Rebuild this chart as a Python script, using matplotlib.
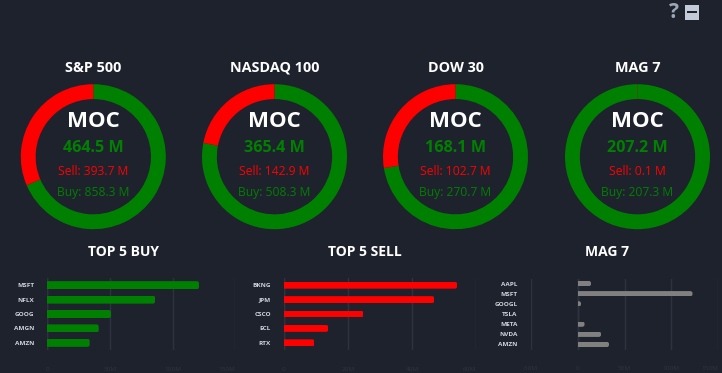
import matplotlib
matplotlib.use('Agg')
import matplotlib.pyplot as plt
from matplotlib.patches import FancyBboxPatch, Rectangle
from matplotlib.transforms import IdentityTransform

plt.rcParams['font.family'] = ['Open Sans', 'DejaVu Sans']

W, H = 722, 373
BG = '#1e222d'
GRID = '#2e323e'
GREEN = '#008000'
RED = '#ff0000'
GREY = '#808080'

# donut data, in millions
index_names = ['S&P 500', 'NASDAQ 100', 'DOW 30', 'MAG 7']
net_vals = [464.5, 365.4, 168.1, 207.2]
sell_vals = [393.7, 142.9, 102.7, 0.1]
buy_vals = [858.3, 508.3, 270.7, 207.3]
donut_x = [93.3, 274.5, 455.5, 637.5]

# bar data, in millions
buy_names = ['MSFT', 'NFLX', 'GOOG', 'AMGN', 'AMZN']
buy_top = [121, 86, 50.8, 41, 33.8]
sell_names = ['BKNG', 'JPM', 'CSCO', 'ECL', 'RTX']
sell_top = [54, 46.9, 24.7, 13.8, 9.5]
mag_names = ['AAPL', 'MSFT', 'GOOGL', 'TSLA', 'META', 'NVDA', 'AMZN']
mag_vals = [14.3, 122.5, 3.6, 0, 7.4, 25, 33.5]

buy_ticks = [0, 50, 100, 150]
buy_tick_labels = ['0', '50M', '100M', '150M']
sell_ticks = [0, 20, 40, 60]
sell_tick_labels = ['0', '20M', '40M', '60M']
mag_ticks = [-50, 0, 50, 100, 150]
mag_tick_labels = ['-50M', '0', '50M', '100M', '150M']

fig = plt.figure(figsize=(W / 100, H / 100), dpi=100, facecolor=BG)


def px_axes(left, top, right, bottom):
    # axes placed by pixel box, y measured from top of image
    return fig.add_axes([left / W, 1 - bottom / H, (right - left) / W, (bottom - top) / H])


def fig_text(x, y, s, **kw):
    fig.text(x / W, 1 - y / H, s, ha='center', va='center', **kw)


# donuts
R = 72.5
for i in range(4):
    cx = donut_x[i]
    cy = 156.7
    ax = px_axes(cx - R, cy - R, cx + R, cy + R)
    ax.pie([buy_vals[i], sell_vals[i]], colors=[GREEN, RED], startangle=90, counterclock=False,
           radius=1, wedgeprops={'width': 0.205, 'linewidth': 0})
    ax.set_xlim(-1, 1)
    ax.set_ylim(-1, 1)
    fig_text(cx, 67.5, index_names[i], color='white', fontsize=10.4, fontweight='bold')
    fig_text(cx, 121.5, 'MOC', color='white', fontsize=16, fontweight='bold')
    fig_text(cx, 148.3, '%.1f M' % net_vals[i], color=GREEN, fontsize=11.6, fontweight='bold')
    fig_text(cx, 171.5, 'Sell: %.1f M' % sell_vals[i], color=RED, fontsize=8.7)
    fig_text(cx, 192.5, 'Buy: %.1f M' % buy_vals[i], color=GREEN, fontsize=8.7)


def bar_panel(box, title, title_x, names, vals, ticks, tick_labels, color, bar_h):
    ax = px_axes(*box)
    ax.set_facecolor('none')
    ypos = list(range(len(names)))
    bars = ax.barh(ypos, vals, height=bar_h, color=color, linewidth=0, zorder=3)
    ax.set_xlim(ticks[0], ticks[-1])
    ax.set_ylim(len(names) - 0.5, -0.5)
    ax.set_xticks(ticks)
    ax.set_xticklabels(tick_labels, color='#30343f', fontsize=4.6)
    ax.get_xticklabels()[-1].set_ha('right')
    ax.set_yticks(ypos)
    ax.set_yticklabels(names, color='#d1d4dc', fontsize=4.6, fontweight='bold')
    ax.tick_params(axis='x', length=0, pad=12)
    ax.tick_params(axis='y', length=0, pad=9.5)
    ax.grid(axis='x', color=GRID, linewidth=1, zorder=0)
    ax.axvline(0, color='#3a3e4a', linewidth=1, zorder=1)
    for s in ax.spines.values():
        s.set_visible(False)
    # round the right end of each bar
    for b in bars:
        (x0, y0), (x1, y1) = ax.transData.transform([(0, b.get_y()), (b.get_width(), b.get_y() + b.get_height())])
        y0, y1 = min(y0, y1), max(y0, y1)
        clip = FancyBboxPatch((x0 - 6, y0), x1 - x0 + 6, y1 - y0, boxstyle='round,pad=0,rounding_size=2.2',
                              transform=IdentityTransform())
        b.set_clip_path(clip)
    fig_text(title_x, 252.5, title, color='white', fontsize=10, fontweight='bold')


bar_panel((47.3, 278, 235.3, 350), 'TOP 5 BUY', 123, buy_names, buy_top, buy_ticks, buy_tick_labels, GREEN, 0.56)
bar_panel((284, 278, 476.3, 350), 'TOP 5 SELL', 365, sell_names, sell_top, sell_ticks, sell_tick_labels, RED, 0.48)
bar_panel((530.7, 278.5, 718.3, 349.5), 'MAG 7', 606.7, mag_names, mag_vals, mag_ticks, mag_tick_labels, GREY, 0.52)

# help and minimise icons, top right
fig_text(674, 12.5, '?', color='#9ea7b8', fontsize=15, fontweight='bold')
fig.patches.append(Rectangle((684.5 / W, 1 - 19.5 / H), 14.5 / W, 14.5 / H, transform=fig.transFigure,
                             facecolor='#c3cad8', edgecolor='none'))
fig.patches.append(Rectangle((686.5 / W, 1 - 13 / H), 10.5 / W, 2 / H, transform=fig.transFigure,
                             facecolor='#1e222d', edgecolor='none'))

fig.savefig('out.png', dpi=100, facecolor=BG)
